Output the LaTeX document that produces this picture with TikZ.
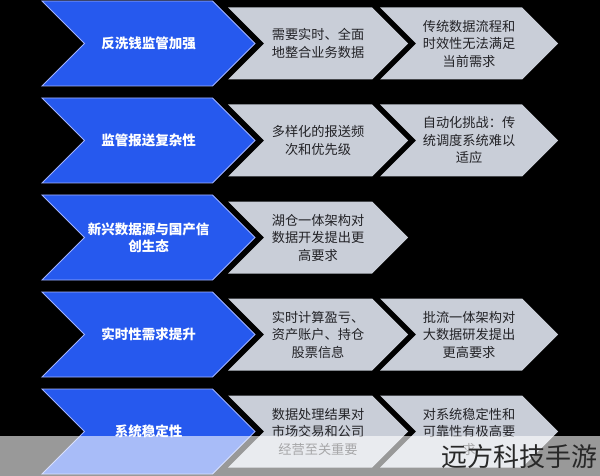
\documentclass[tikz,border=0pt]{standalone}
\usepackage{fontspec}
\setmainfont{Noto Sans CJK SC}
\newfontfamily\wmfont{Noto Sans CJK SC}
\definecolor{chevblue}{RGB}{38,89,238}
\definecolor{chevedge}{RGB}{160,178,255}
\definecolor{chevgray}{RGB}{201,206,216}
\definecolor{graytext}{RGB}{34,34,38}
\definecolor{wmtext}{RGB}{40,40,40}
\newcommand{\mychev}[6]{%
  \path[#1] (#2,#3) -- (#4,#3) -- ({#4+#6},{#3+#5/2}) -- (#4,{#3+#5}) -- (#2,{#3+#5}) -- ({#2+#6},{#3+#5/2}) -- cycle;}
\begin{document}
\begin{tikzpicture}[x=1pt,y=-1pt,
  bluechev/.style={fill=chevblue,draw=chevedge,line width=0.9pt,line join=miter},
  graychev/.style={fill=chevgray},
  bluetext/.style={text=white,font=\bfseries\fontsize{13.5}{17}\selectfont,align=center,inner sep=0pt},
  graytxt/.style={text=graytext,font=\fontsize{13.2}{17.5}\selectfont,align=center,inner sep=0pt},
  wmstyle/.style={text=wmtext,font=\wmfont\fontsize{26}{30}\selectfont,inner sep=0pt}]
\fill[black] (0,0) rectangle (600,476);
\useasboundingbox (0,0) rectangle (600,476);
% row tops: 1, 98, 195, 292, 389
\foreach \t in {1,98,195,292,389}{
  \mychev{graychev}{228}{\t+6.5}{372}{72}{36}
  \mychev{bluechev}{42}{\t}{212.5}{85}{42.5}
}
\foreach \t in {1,98,292,389}{
  \mychev{graychev}{380}{\t+6.5}{522}{72}{36}
}
% row 1
\node[bluetext] (b1) at (148.5,43.5) {反洗钱监管加强};
\node[graytxt] (g1a) at (318,43.5) {需要实时、全面\\地整合业务数据};
\node[graytxt] (g1b) at (469,43.5) {传统数据流程和\\时效性无法满足\\当前需求};
% row 2
\node[bluetext] (b2) at (148.5,140.5) {监管报送复杂性};
\node[graytxt] (g2a) at (318,140.5) {多样化的报送频\\次和优先级};
\node[graytxt] (g2b) at (469,140.5) {自动化挑战：传\\统调度系统难以\\适应};
% row 3
\node[bluetext] (b3) at (148.5,237.5) {新兴数据源与国产信\\创生态};
\node[graytxt] (g3a) at (318,237.5) {湖仓一体架构对\\数据开发提出更\\高要求};
% row 4
\node[bluetext] (b4) at (148.5,334.5) {实时性需求提升};
\node[graytxt] (g4a) at (318,334.5) {实时计算盈亏、\\资产账户、持仓\\股票信息};
\node[graytxt] (g4b) at (469,334.5) {批流一体架构对\\大数据研发提出\\更高要求};
% row 5
\node[bluetext] (b5) at (148.5,431.5) {系统稳定性};
\node[graytxt] (g5a) at (318,431.5) {数据处理结果对\\市场交易和公司\\经营至关重要};
\node[graytxt] (g5b) at (469,431.5) {对系统稳定性和\\可靠性有极高要\\求};
% translucent band at the bottom
\fill[white,opacity=0.6] (0,436) rectangle (600,476);
\node[wmstyle,anchor=east] (wm) at (598,457) {远方科技手游};
\end{tikzpicture}
\end{document}
